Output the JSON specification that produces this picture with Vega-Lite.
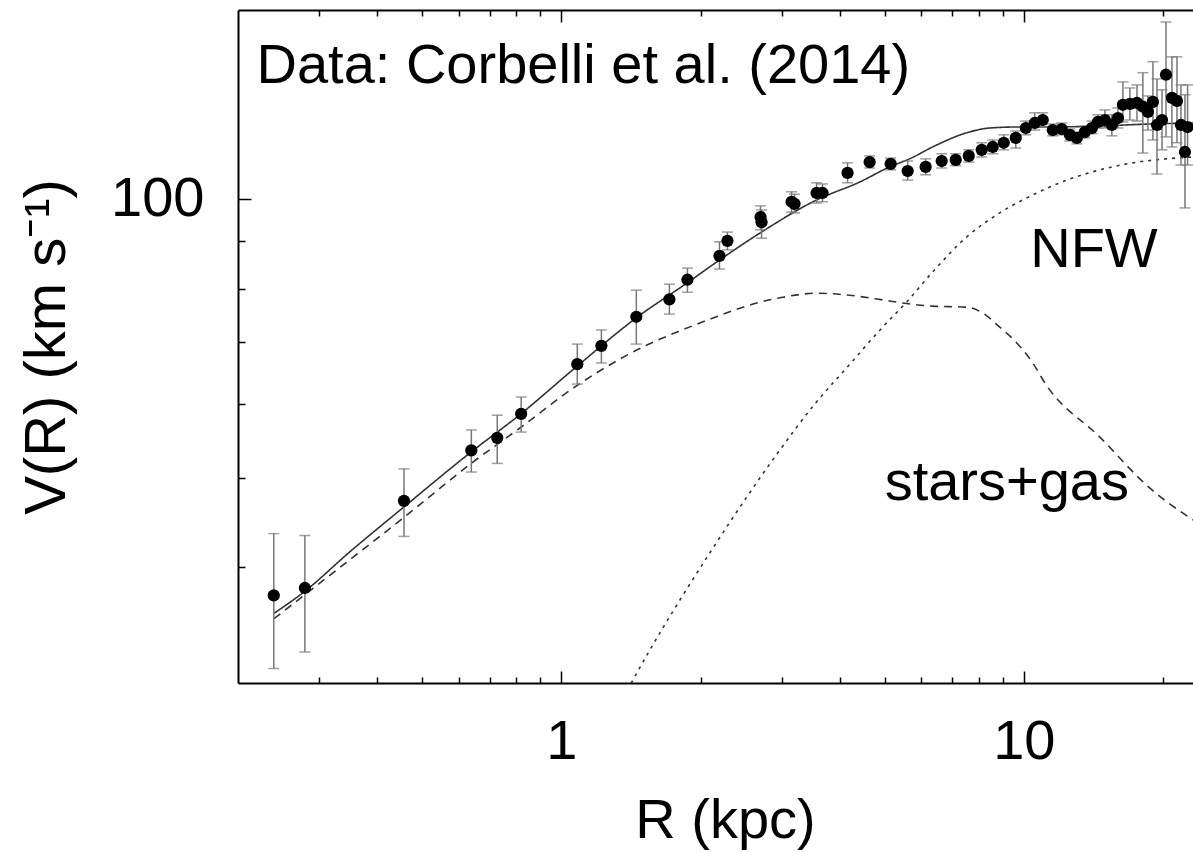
{
  "$schema": "https://vega.github.io/schema/vega-lite/v6.json",
  "width": 955,
  "height": 673,
  "autosize": {"type": "none"},
  "padding": {"left": 238, "top": 10, "right": 0, "bottom": 169},
  "background": "white",
  "config": {
    "view": {"stroke": null},
    "axis": {
      "grid": false,
      "labelFont": "Liberation Sans",
      "titleFont": "Liberation Sans",
      "labelColor": "black",
      "titleColor": "black",
      "tickColor": "black",
      "domainColor": "black",
      "titleFontWeight": "normal",
      "labelFlush": false,
      "labelOverlap": false
    }
  },
  "datasets": {
    "obs": [
      {"R": 0.239, "V": 37.3, "lo": 31.1, "hi": 43.5},
      {"R": 0.279, "V": 38.0, "lo": 32.4, "hi": 43.3},
      {"R": 0.457, "V": 47.2, "lo": 43.2, "hi": 51.1},
      {"R": 0.639, "V": 53.5, "lo": 50.7, "hi": 56.3},
      {"R": 0.727, "V": 55.2, "lo": 51.8, "hi": 58.4},
      {"R": 0.819, "V": 58.6, "lo": 56.0, "hi": 61.1},
      {"R": 1.083, "V": 66.3, "lo": 63.1, "hi": 69.7},
      {"R": 1.221, "V": 69.4, "lo": 66.5, "hi": 72.2},
      {"R": 1.453, "V": 74.6, "lo": 69.7, "hi": 79.7},
      {"R": 1.713, "V": 77.9, "lo": 75.1, "hi": 80.9},
      {"R": 1.874, "V": 81.8, "lo": 79.3, "hi": 84.2},
      {"R": 2.198, "V": 86.8, "lo": 84.0, "hi": 89.9},
      {"R": 2.287, "V": 90.1, "lo": 88.1, "hi": 92.1},
      {"R": 2.697, "V": 95.6, "lo": 92.6, "hi": 98.3},
      {"R": 2.71, "V": 94.4, "lo": 90.7, "hi": 97.3},
      {"R": 3.147, "V": 99.3, "lo": 96.8, "hi": 101.8},
      {"R": 3.194, "V": 98.8, "lo": 96.6, "hi": 101.2},
      {"R": 3.564, "V": 101.5, "lo": 99.0, "hi": 104.1},
      {"R": 3.672, "V": 101.5, "lo": 99.3, "hi": 103.8},
      {"R": 4.159, "V": 106.7, "lo": 104.1, "hi": 109.4},
      {"R": 4.642, "V": 109.6, "lo": 108.0, "hi": 111.3},
      {"R": 5.154, "V": 109.1, "lo": 107.5, "hi": 110.7},
      {"R": 5.61, "V": 107.2, "lo": 104.8, "hi": 109.9},
      {"R": 6.135, "V": 108.3, "lo": 106.2, "hi": 110.5},
      {"R": 6.645, "V": 109.9, "lo": 108.0, "hi": 111.9},
      {"R": 7.125, "V": 110.2, "lo": 108.6, "hi": 111.9},
      {"R": 7.603, "V": 111.3, "lo": 109.6, "hi": 113.0},
      {"R": 8.111, "V": 113.0, "lo": 111.0, "hi": 115.0},
      {"R": 8.567, "V": 113.8, "lo": 111.9, "hi": 115.8},
      {"R": 9.051, "V": 115.0, "lo": 113.0, "hi": 117.3},
      {"R": 9.609, "V": 116.4, "lo": 113.5, "hi": 118.4},
      {"R": 10.10, "V": 119.3, "lo": 117.3, "hi": 121.4},
      {"R": 10.56, "V": 120.8, "lo": 118.7, "hi": 123.9},
      {"R": 10.99, "V": 121.7, "lo": 119.6, "hi": 123.9},
      {"R": 11.55, "V": 118.7, "lo": 117.0, "hi": 120.5},
      {"R": 12.08, "V": 119.0, "lo": 117.3, "hi": 120.8},
      {"R": 12.58, "V": 117.3, "lo": 115.5, "hi": 119.0},
      {"R": 13.02, "V": 116.4, "lo": 114.7, "hi": 118.1},
      {"R": 13.55, "V": 118.1, "lo": 116.4, "hi": 119.9},
      {"R": 14.04, "V": 119.3, "lo": 117.6, "hi": 121.4},
      {"R": 14.46, "V": 121.1, "lo": 119.3, "hi": 123.3},
      {"R": 14.98, "V": 121.7, "lo": 119.3, "hi": 124.8},
      {"R": 15.50, "V": 120.2, "lo": 117.0, "hi": 123.3},
      {"R": 15.98, "V": 122.3, "lo": 119.3, "hi": 125.4},
      {"R": 16.38, "V": 126.4, "lo": 121.1, "hi": 133.8},
      {"R": 16.96, "V": 126.7, "lo": 121.7, "hi": 131.8},
      {"R": 17.57, "V": 127.0, "lo": 121.4, "hi": 132.8},
      {"R": 18.09, "V": 125.8, "lo": 112.1, "hi": 136.9},
      {"R": 18.55, "V": 124.2, "lo": 118.7, "hi": 129.2},
      {"R": 19.02, "V": 127.3, "lo": 115.8, "hi": 140.7},
      {"R": 19.41, "V": 120.2, "lo": 106.4, "hi": 134.8},
      {"R": 19.90, "V": 121.7, "lo": 113.0, "hi": 131.2},
      {"R": 20.30, "V": 136.2, "lo": 116.7, "hi": 155.3},
      {"R": 20.91, "V": 128.6, "lo": 113.8, "hi": 142.4},
      {"R": 21.44, "V": 127.6, "lo": 115.0, "hi": 142.4},
      {"R": 21.87, "V": 120.2, "lo": 108.8, "hi": 132.8},
      {"R": 22.31, "V": 112.4, "lo": 97.8, "hi": 129.6},
      {"R": 22.6, "V": 119.6, "lo": 108.8, "hi": 132.8}
    ],
    "curves": [
      {"comp": "total", "R": 0.2392, "V": 35.67},
      {"comp": "total", "R": 0.2792, "V": 37.7},
      {"comp": "total", "R": 0.3476, "V": 41.5},
      {"comp": "total", "R": 0.4573, "V": 46.5},
      {"comp": "total", "R": 0.6386, "V": 53.3},
      {"comp": "total", "R": 0.8111, "V": 58.4},
      {"comp": "total", "R": 1.083, "V": 66.0},
      {"comp": "total", "R": 1.453, "V": 74.4},
      {"comp": "total", "R": 1.874, "V": 81.2},
      {"comp": "total", "R": 2.198, "V": 85.9},
      {"comp": "total", "R": 2.71, "V": 92.1},
      {"comp": "total", "R": 3.564, "V": 99.75},
      {"comp": "total", "R": 4.416, "V": 104.3},
      {"comp": "total", "R": 5.129, "V": 108.3},
      {"comp": "total", "R": 5.665, "V": 110.5},
      {"comp": "total", "R": 6.418, "V": 114.1},
      {"comp": "total", "R": 7.527, "V": 117.9},
      {"comp": "total", "R": 8.441, "V": 119.3},
      {"comp": "total", "R": 9.656, "V": 119.6},
      {"comp": "total", "R": 11.38, "V": 119.6},
      {"comp": "total", "R": 14.6, "V": 119.9},
      {"comp": "total", "R": 18.74, "V": 120.5},
      {"comp": "total", "R": 23.22, "V": 120.8},
      {"comp": "stars", "R": 0.2392, "V": 35.2},
      {"comp": "stars", "R": 0.3476, "V": 40.7},
      {"comp": "stars", "R": 0.4573, "V": 45.3},
      {"comp": "stars", "R": 0.6386, "V": 51.8},
      {"comp": "stars", "R": 0.8111, "V": 56.5},
      {"comp": "stars", "R": 1.083, "V": 62.9},
      {"comp": "stars", "R": 1.528, "V": 69.5},
      {"comp": "stars", "R": 1.827, "V": 72.2},
      {"comp": "stars", "R": 2.165, "V": 74.6},
      {"comp": "stars", "R": 2.552, "V": 76.8},
      {"comp": "stars", "R": 3.009, "V": 78.3},
      {"comp": "stars", "R": 3.564, "V": 79.1},
      {"comp": "stars", "R": 4.201, "V": 78.7},
      {"comp": "stars", "R": 4.953, "V": 77.8},
      {"comp": "stars", "R": 5.471, "V": 77.2},
      {"comp": "stars", "R": 6.353, "V": 76.6},
      {"comp": "stars", "R": 7.527, "V": 76.4},
      {"comp": "stars", "R": 8.152, "V": 75.3},
      {"comp": "stars", "R": 8.872, "V": 72.7},
      {"comp": "stars", "R": 9.656, "V": 69.9},
      {"comp": "stars", "R": 10.459, "V": 66.5},
      {"comp": "stars", "R": 11.103, "V": 63.3},
      {"comp": "stars", "R": 14.604, "V": 55.3},
      {"comp": "stars", "R": 18.741, "V": 48.7},
      {"comp": "stars", "R": 23.218, "V": 45.0},
      {"comp": "nfw", "R": 1.3895, "V": 29.45},
      {"comp": "nfw", "R": 1.4174, "V": 30.0},
      {"comp": "nfw", "R": 1.5505, "V": 32.5},
      {"comp": "nfw", "R": 1.8003, "V": 36.8},
      {"comp": "nfw", "R": 2.0909, "V": 41.4},
      {"comp": "nfw", "R": 2.5142, "V": 47.6},
      {"comp": "nfw", "R": 2.9641, "V": 53.5},
      {"comp": "nfw", "R": 3.5284, "V": 60.0},
      {"comp": "nfw", "R": 4.1387, "V": 65.7},
      {"comp": "nfw", "R": 4.9525, "V": 72.7},
      {"comp": "nfw", "R": 5.582, "V": 77.4},
      {"comp": "nfw", "R": 6.3533, "V": 83.4},
      {"comp": "nfw", "R": 7.5275, "V": 91.0},
      {"comp": "nfw", "R": 8.8716, "V": 96.6},
      {"comp": "nfw", "R": 10.459, "V": 101.0},
      {"comp": "nfw", "R": 12.393, "V": 104.8},
      {"comp": "nfw", "R": 14.604, "V": 107.5},
      {"comp": "nfw", "R": 17.218, "V": 109.4},
      {"comp": "nfw", "R": 20.394, "V": 110.5},
      {"comp": "nfw", "R": 23.218, "V": 111.0}
    ],
    "labels": [
      {"R": 1.116, "V": 133.5, "label": "Data: Corbelli et al. (2014)"},
      {"R": 14.18, "V": 84.4, "label": "NFW"},
      {"R": 9.19, "V": 47.3, "label": "stars+gas"}
    ]
  },
  "resolve": {"axis": {"x": "independent", "y": "independent"}},
  "layer": [
    {
      "data": {"name": "curves"},
      "mark": {"type": "line", "clip": true, "strokeWidth": 1.6, "color": "#333333", "interpolate": "monotone"},
      "encoding": {
        "x": {"field": "R", "type": "quantitative",
              "scale": {"type": "log", "domain": [0.2, 23.22], "nice": false},
              "axis": {"orient": "top", "values": [0.3, 0.4, 0.5, 0.6, 0.7, 0.8, 0.9, 2, 3, 4, 5, 6, 7, 8, 9, 20],
                       "labels": false, "domain": false, "tickSize": -6, "tickWidth": 1.5, "title": null}},
        "y": {"field": "V", "type": "quantitative",
              "scale": {"type": "log", "domain": [30, 160], "nice": false}, "axis": null},
        "strokeDash": {"field": "comp", "type": "nominal",
                       "scale": {"domain": ["total", "stars", "nfw"], "range": [[1, 0], [8, 6], [3, 5]]},
                       "legend": null}
      }
    },
    {
      "data": {"name": "obs"},
      "mark": {"type": "rule", "color": "#777777", "strokeWidth": 1.5, "clip": true},
      "encoding": {
        "x": {"field": "R", "type": "quantitative",
              "scale": {"type": "log", "domain": [0.2, 23.22], "nice": false},
              "axis": {"orient": "bottom", "values": [1, 10], "format": "~g", "ticks": false,
                       "domain": true, "domainWidth": 2, "labelFontSize": 56, "labelPadding": 31,
                       "title": "R (kpc)", "titleFontSize": 56, "titleX": 487, "titleY": 154,
                       "titleBaseline": "alphabetic", "titleAlign": "center"}},
        "y": {"field": "lo", "type": "quantitative",
              "scale": {"type": "log", "domain": [30, 160], "nice": false},
              "axis": {"orient": "left", "values": [100], "format": "~g", "ticks": false,
                       "domain": true, "domainWidth": 2, "labelFontSize": 56, "labelPadding": 34,
                       "title": "V(R) (km s⁻¹)", "titleFontSize": 58, "titleX": -174,
                       "titleBaseline": "alphabetic", "titleAngle": 270}},
        "y2": {"field": "hi"}
      }
    },
    {
      "data": {"name": "obs"},
      "mark": {"type": "tick", "orient": "horizontal", "size": 11, "thickness": 1.5, "color": "#777777", "clip": true},
      "encoding": {
        "x": {"field": "R", "type": "quantitative",
              "scale": {"type": "log", "domain": [0.2, 23.22], "nice": false},
              "axis": {"orient": "bottom", "values": [1, 10], "labels": false, "domain": false,
                       "tickSize": -12, "tickWidth": 1.5, "title": null}},
        "y": {"field": "hi", "type": "quantitative",
              "scale": {"type": "log", "domain": [30, 160], "nice": false},
              "axis": {"orient": "left", "values": [100], "labels": false, "domain": false,
                       "tickSize": -13, "tickWidth": 1.5, "title": null}}
      }
    },
    {
      "data": {"name": "obs"},
      "mark": {"type": "tick", "orient": "horizontal", "size": 11, "thickness": 1.5, "color": "#777777", "clip": true},
      "encoding": {
        "x": {"field": "R", "type": "quantitative",
              "scale": {"type": "log", "domain": [0.2, 23.22], "nice": false},
              "axis": {"orient": "bottom", "values": [0.3, 0.4, 0.5, 0.6, 0.7, 0.8, 0.9, 2, 3, 4, 5, 6, 7, 8, 9, 20],
                       "labels": false, "domain": false, "tickSize": -6, "tickWidth": 1.5, "title": null}},
        "y": {"field": "lo", "type": "quantitative",
              "scale": {"type": "log", "domain": [30, 160], "nice": false},
              "axis": {"orient": "left", "values": [40, 50, 60, 70, 80, 90], "labels": false, "domain": false,
                       "tickSize": -7, "tickWidth": 1.5, "title": null}}
      }
    },
    {
      "data": {"name": "obs"},
      "mark": {"type": "point", "filled": true, "size": 150, "color": "black", "opacity": 1, "clip": true},
      "encoding": {
        "x": {"field": "R", "type": "quantitative",
              "scale": {"type": "log", "domain": [0.2, 23.22], "nice": false},
              "axis": {"orient": "top", "values": [1, 10], "labels": false, "domain": true, "domainWidth": 2,
                       "tickSize": -12, "tickWidth": 1.5, "title": null}},
        "y": {"field": "V", "type": "quantitative",
              "scale": {"type": "log", "domain": [30, 160], "nice": false}, "axis": null}
      }
    },
    {
      "data": {"name": "labels"},
      "mark": {"type": "text", "font": "Liberation Sans", "fontSize": 56, "align": "center", "baseline": "alphabetic", "color": "black"},
      "encoding": {
        "x": {"field": "R", "type": "quantitative",
              "scale": {"type": "log", "domain": [0.2, 23.22], "nice": false}, "axis": null},
        "y": {"field": "V", "type": "quantitative",
              "scale": {"type": "log", "domain": [30, 160], "nice": false}, "axis": null},
        "text": {"field": "label"}
      }
    }
  ]
}
